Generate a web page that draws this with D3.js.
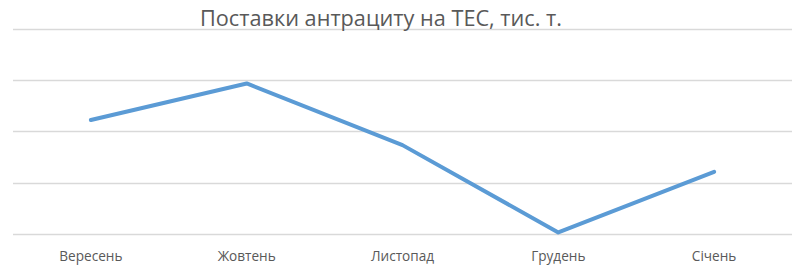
<!DOCTYPE html>
<html>
<head>
<meta charset="utf-8">
<script src="https://cdn.jsdelivr.net/npm/d3@7"></script>
<style>
  html, body { margin: 0; padding: 0; background: #fff; }
  svg { display: block; }
</style>
</head>
<body>
<svg id="chart" width="800" height="267"></svg>
<script>
const title = "Поставки антрациту на ТЕС, тис. т.";
const categories = ["Вересень", "Жовтень", "Листопад", "Грудень", "Січень"];
const values = [222, 293, 173, 3, 121];
const yTicks = [0, 100, 200, 300, 400];

const svg = d3.select("#chart");
const W = 800, H = 267;
const margin = { left: 13, right: 8, top: 28.5, bottom: 33 };

const x = d3.scaleBand()
  .domain(categories)
  .range([margin.left, W - margin.right])
  .padding(0);

const y = d3.scaleLinear()
  .domain([0, 400])
  .range([H - margin.bottom, margin.top]);

// gridlines
svg.append("g")
  .selectAll("line")
  .data(yTicks)
  .join("line")
  .attr("x1", margin.left)
  .attr("x2", W - margin.right)
  .attr("y1", d => Math.round(y(d)) + 0.5)
  .attr("y2", d => Math.round(y(d)) + 0.5)
  .attr("stroke", "#d9d9d9")
  .attr("stroke-width", 1.3);

// x axis labels
const xAxis = d3.axisBottom(x).tickSize(0).tickPadding(0);
const gx = svg.append("g")
  .attr("transform", `translate(0,${H - margin.bottom})`)
  .call(xAxis);
gx.select(".domain").remove();
gx.selectAll("text")
  .attr("dy", 0)
  .attr("y", 27)
  .attr("fill", "#595959")
  .style("font-family", "'Open Sans', sans-serif")
  .style("font-size", "13.6px");

// line
const line = d3.line()
  .x(d => x(d.c) + x.bandwidth() / 2)
  .y(d => y(d.v));

svg.append("path")
  .datum(categories.map((c, i) => ({ c, v: values[i] })))
  .attr("d", line)
  .attr("fill", "none")
  .attr("stroke", "#5b9bd5")
  .attr("stroke-width", 4)
  .attr("stroke-linejoin", "round")
  .attr("stroke-linecap", "round");

// title
svg.append("text")
  .attr("x", 381)
  .attr("y", 26)
  .attr("text-anchor", "middle")
  .attr("fill", "#595959")
  .attr("textLength", 362)
  .attr("lengthAdjust", "spacingAndGlyphs")
  .style("font-family", "'Open Sans', sans-serif")
  .style("font-size", "21px")
  .text(title);
</script>
</body>
</html>
